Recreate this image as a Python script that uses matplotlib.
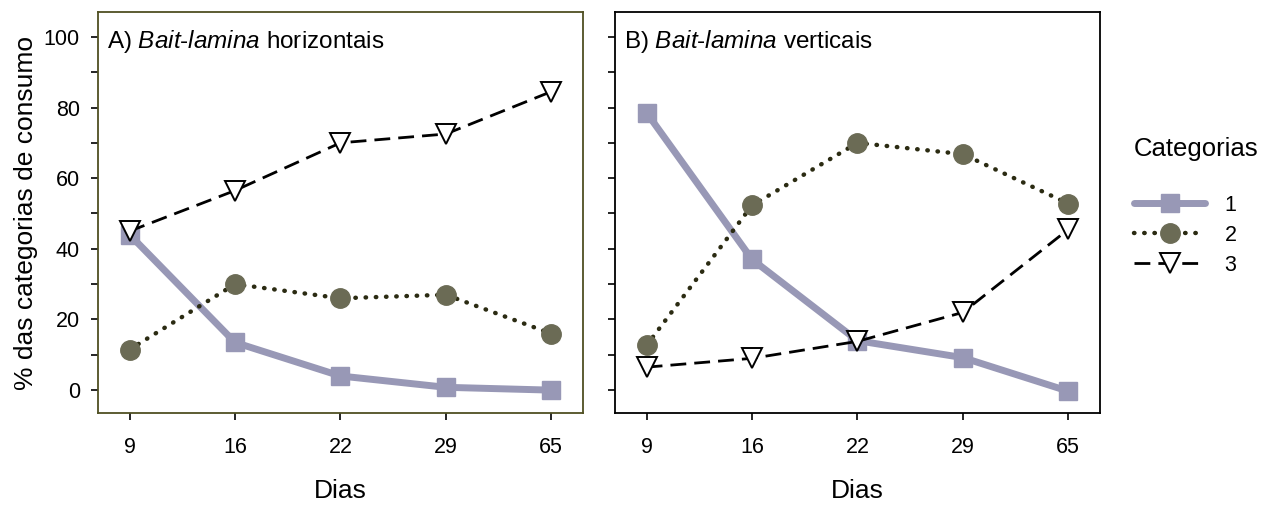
import matplotlib
matplotlib.use("Agg")
import matplotlib.pyplot as plt
import numpy as np

plt.rcParams['font.family'] = ['Liberation Sans', 'DejaVu Sans']
plt.rcParams['mathtext.fontset'] = 'custom'
plt.rcParams['mathtext.rm'] = 'Liberation Sans'
plt.rcParams['mathtext.it'] = 'Liberation Sans:italic'

dias = ['9', '16', '22', '29', '65']
categorias = ['1', '2', '3']

# painel A - horizontais
a_cat1 = [44, 13.5, 4, 0.8, 0]
a_cat2 = [11.5, 30, 26, 27, 16]
a_cat3 = [45, 56.5, 70, 72.5, 84.5]

# painel B - verticais
b_cat1 = [78.5, 37, 14, 9.2, -0.3]
b_cat2 = [12.7, 52.3, 70, 66.8, 52.8]
b_cat3 = [6.5, 9, 13.8, 22, 45.5]

c1 = '#9898b6'
c2 = '#6b6b55'
c2_line = '#2b2b12'

fig = plt.figure(figsize=(12.76, 5.05), dpi=100)
axA = fig.add_axes([0.0768, 0.182, 0.380, 0.794])
axB = fig.add_axes([0.482, 0.182, 0.380, 0.794])

x = np.arange(len(dias))

def draw(ax, s1, s2, s3):
    h1, = ax.plot(x, s1, color=c1, lw=5, marker='s', ms=13,
                  solid_capstyle='round', zorder=2)
    h2, = ax.plot(x, s2, color=c2_line, lw=3.2, linestyle=(0, (0.1, 2.2)),
                  dash_capstyle='round', marker='o', ms=14,
                  markerfacecolor=c2, markeredgecolor=c2, zorder=3)
    h3, = ax.plot(x, s3, color='black', lw=2, linestyle=(0, (5.7, 2.9)),
                  marker='v', ms=14, markerfacecolor='white',
                  markeredgecolor='black', markeredgewidth=1.4, zorder=4)
    ax.set_xlim(-0.3, 4.3)
    ax.set_ylim(-6.5, 107)
    ax.set_xticks(x)
    ax.set_xticklabels(dias, fontsize=15.5)
    ax.set_yticks(np.arange(0, 101, 20))
    ax.set_yticks(np.arange(10, 100, 20), minor=True)
    ax.tick_params(axis='both', which='both', direction='out', length=5, width=1.2)
    ax.tick_params(axis='x', pad=12)
    ax.tick_params(axis='y', pad=8)
    ax.set_xlabel('Dias', fontsize=19, labelpad=15)
    return h1, h2, h3

draw(axA, a_cat1, a_cat2, a_cat3)
handles = draw(axB, b_cat1, b_cat2, b_cat3)

axA.set_yticklabels([str(v) for v in range(0, 101, 20)], fontsize=15.5)
axA.set_ylabel('% das categorias de consumo', fontsize=19, labelpad=4)
axB.set_yticklabels([])

for s in axA.spines.values():
    s.set_color('#4f4f22')
    s.set_linewidth(1.3)
for s in axB.spines.values():
    s.set_color('black')
    s.set_linewidth(1.3)

axA.text(0.019, 0.96, r'A) $\it{Bait}$-$\it{lamina}$ horizontais', transform=axA.transAxes,
         fontsize=17.5, va='top', ha='left')
axB.text(0.019, 0.96, r'B) $\it{Bait}$-$\it{lamina}$ verticais', transform=axB.transAxes,
         fontsize=17.5, va='top', ha='left')

leg = fig.legend(handles, categorias, title='Categorias', loc='upper left',
                 bbox_to_anchor=(0.882, 0.745), frameon=False, fontsize=15.5,
                 title_fontsize=18.5, handlelength=3.3, labelspacing=0.42,
                 handletextpad=0.9, borderaxespad=0)
leg._legend_box.align = 'left'
leg._legend_box.sep = 24

fig.savefig('out.png', dpi=100)
